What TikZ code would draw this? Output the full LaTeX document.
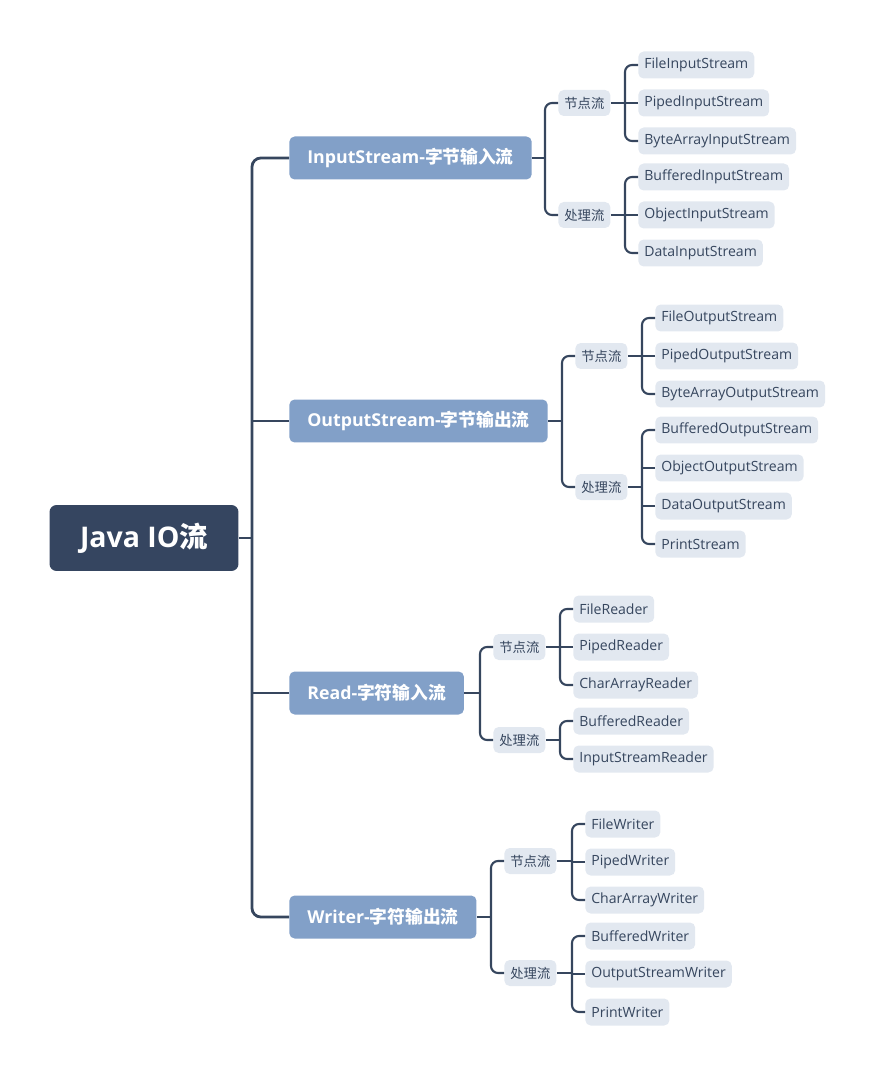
\documentclass[tikz,border=0pt]{standalone}
\usepackage{fontspec}
\setmainfont{Open Sans}
\newfontfamily\cjk{Noto Sans CJK SC}
\usetikzlibrary{positioning, calc}
\definecolor{rootcol}{HTML}{354560}
\definecolor{maincol}{HTML}{82A0C8}
\definecolor{leafcol}{HTML}{E2E8F0}
\definecolor{linecol}{HTML}{36465E}
\tikzset{
  rnode/.style={rectangle, rounded corners=4pt, fill=rootcol, text=white, minimum width=3.78cm, minimum height=1.32cm, font=\fontsize{16.2}{19}\selectfont\bfseries},
  mnode/.style={rectangle, rounded corners=3pt, fill=maincol, text=white, anchor=west, inner xsep=0.36cm, minimum height=0.86cm, font=\fontsize{10.1}{12}\selectfont\bfseries},
  snode/.style={rectangle, rounded corners=3pt, fill=leafcol, text=linecol, anchor=west, inner xsep=0.12cm, minimum height=0.52cm, font=\fontsize{7.6}{9}\selectfont},
  lnode/.style={snode, minimum height=0.54cm, font=\fontsize{8}{9}\selectfont},
  trunk/.style={draw=linecol, line width=1.6pt, rounded corners=5pt},
  link/.style={draw=linecol, line width=1.2pt, rounded corners=4pt},
}
\begin{document}
\begin{tikzpicture}[x=0.02cm, y=-0.02cm]
  \useasboundingbox (0,0) rectangle (877,1077);
  \node[rnode] (root) at (144,538) {Java IO{\cjk 流}};
  \node[mnode] (ins)  at (289,158) {InputStream-{\cjk 字节输入流}};
  \node[mnode] (outs) at (289,421) {OutputStream-{\cjk 字节输出流}};
  \node[mnode] (rdr)  at (289,693) {Read-{\cjk 字符输入流}};
  \node[mnode] (wtr)  at (289,917) {Writer-{\cjk 字符输出流}};
  % node streams / filter streams
  \foreach \n/\x/\y/\t in {insA/558/103/节点流, insB/558/215/处理流,
      outsA/575/356/节点流, outsB/575/487/处理流,
      rdrA/493/647/节点流, rdrB/493/740/处理流,
      wtrA/504/861/节点流, wtrB/504/973/处理流}
    \node[snode] (\n) at (\x,\y) {\cjk\t};
  % leaves
  \foreach \n/\x/\y/\t in {fis/638/65/FileInputStream,
      pis/638/103/PipedInputStream,
      bais/638/141/ByteArrayInputStream,
      bis/638/177/BufferedInputStream,
      ois/638/215/ObjectInputStream,
      dis/638/253/DataInputStream,
      fos/655/318/FileOutputStream,
      pos/655/356/PipedOutputStream,
      baos/655/394/ByteArrayOutputStream,
      bos/655/430/BufferedOutputStream,
      oos/655/468/ObjectOutputStream,
      dos/655/506/DataOutputStream,
      ps/655/544/PrintStream,
      fr/573/609/FileReader,
      pr/573/647/PipedReader,
      car/573/685/CharArrayReader,
      br/573/721/BufferedReader,
      isr/573/759/InputStreamReader,
      fw/585/824/FileWriter,
      pw/585/862/PipedWriter,
      caw/585/900/CharArrayWriter,
      bw/585/936/BufferedWriter,
      osw/585/974/OutputStreamWriter,
      prw/585/1012/PrintWriter}
    \node[lnode] (\n) at (\x,\y) {\t};
  % brackets: parent / first child / last child / middle children / gap
  \foreach \p/\a/\b/\mids/\w/\d in {root/ins/wtr/{outs,rdr}/trunk/37,
      ins/insA/insB/{}/link/13, outs/outsA/outsB/{}/link/13,
      rdr/rdrA/rdrB/{}/link/13, wtr/wtrA/wtrB/{}/link/13,
      insA/fis/bais/{pis}/link/13, insB/bis/dis/{ois}/link/13,
      outsA/fos/baos/{pos}/link/13, outsB/bos/ps/{oos,dos}/link/13,
      rdrA/fr/car/{pr}/link/13, rdrB/br/isr/{}/link/13,
      wtrA/fw/caw/{pw}/link/13, wtrB/bw/prw/{osw}/link/13}
  {
    \coordinate (\p-j) at ($(\p.east -| \a.west)+(-\d,0)$);
    \draw[\w] (\a.west) -| (\p-j) |- (\b.west);
    \draw[\w] (\p.east) -- (\p-j);
    \foreach \m in \mids
      \draw[\w] (\m.west) -- (\m.west -| \p-j);
  }
\end{tikzpicture}
\end{document}
